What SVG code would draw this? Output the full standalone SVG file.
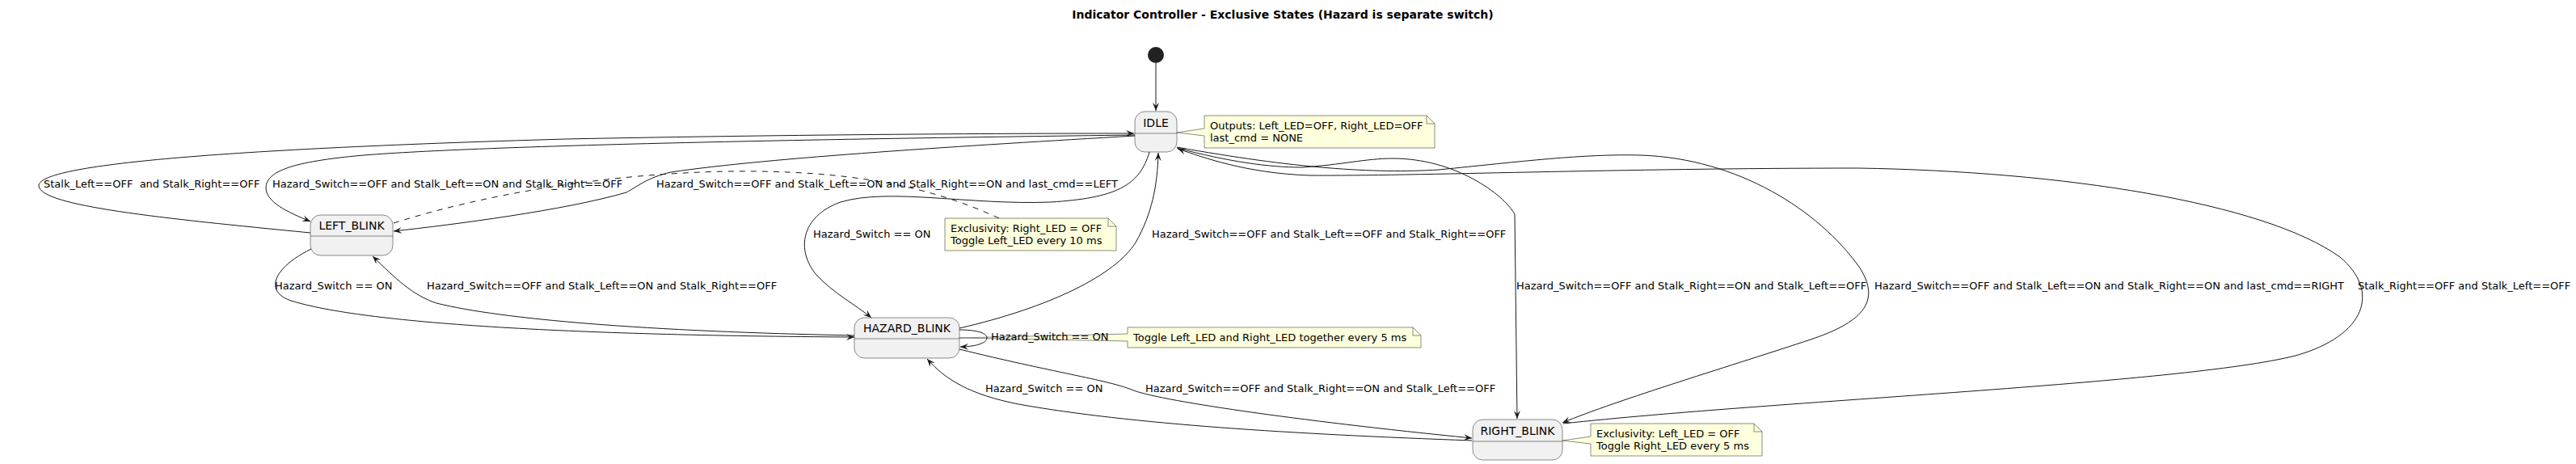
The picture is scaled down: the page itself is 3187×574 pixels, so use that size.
<svg xmlns="http://www.w3.org/2000/svg" width="3187" height="574" viewBox="0 0 3187 574">
<defs>
<marker id="arr" markerWidth="10" markerHeight="10" refX="10" refY="5" orient="auto" markerUnits="userSpaceOnUse"><path d="M0,1 L10,5 L0,9 L4,5 Z" fill="#181818"/></marker>
<style>
text{font-family:"DejaVu Sans","Liberation Sans",sans-serif;fill:#000;white-space:pre}
.title{font-size:14px;font-weight:bold}
.lbl{font-size:13px}
.st{font-size:14px}
.nt{font-size:13px}
.state rect{fill:#F1F1F1;stroke:#181818;stroke-width:0.5}
.state line{stroke:#181818;stroke-width:0.5}
.note path{fill:#FEFFDD;stroke:#181818;stroke-width:0.5}
.note path.fold{fill:none}
#edges path{fill:none;stroke:#181818;stroke-width:1}
#edges path.a{marker-end:url(#arr)}
#edges path.dash{stroke-dasharray:7,7}
</style>
</defs>
<rect width="3187" height="574" fill="#FFFFFF"/>
<text class="title" x="1587" y="23" text-anchor="middle">Indicator Controller - Exclusive States (Hazard is separate switch)</text>

<g id="start"><circle cx="1430" cy="68" r="10" fill="#222222"/></g>

<g id="IDLE" class="state">
<rect x="1404" y="138" width="52" height="50" rx="12.5" ry="12.5"/>
<line x1="1404" y1="165" x2="1456" y2="165"/>
<text class="st" x="1430" y="157" text-anchor="middle">IDLE</text>
</g>
<g id="LEFT_BLINK" class="state">
<rect x="384" y="266" width="102" height="50" rx="12.5" ry="12.5"/>
<line x1="384" y1="292" x2="486" y2="292"/>
<text class="st" x="435" y="284" text-anchor="middle">LEFT_BLINK</text>
</g>
<g id="HAZARD_BLINK" class="state">
<rect x="1057" y="393" width="130" height="50" rx="12.5" ry="12.5"/>
<line x1="1057" y1="419" x2="1187" y2="419"/>
<text class="st" x="1122" y="411" text-anchor="middle">HAZARD_BLINK</text>
</g>
<g id="RIGHT_BLINK" class="state">
<rect x="1822" y="519" width="111" height="50" rx="12.5" ry="12.5"/>
<line x1="1822" y1="546" x2="1933" y2="546"/>
<text class="st" x="1877.5" y="538" text-anchor="middle">RIGHT_BLINK</text>
</g>

<g id="note_idle" class="note">
<path d="M1490,143 L1765,143 L1775,153 L1775,183 L1490,183 L1490,168 L1456,164 L1490,159 Z"/>
<path class="fold" d="M1765,143 L1765,153 L1775,153"/>
<text class="nt" x="1497" y="160">Outputs: Left_LED=OFF, Right_LED=OFF</text>
<text class="nt" x="1497" y="175">last_cmd = NONE</text>
</g>
<g id="note_left" class="note">
<path d="M1169,270 L1371,270 L1381,280 L1381,310 L1169,310 Z"/>
<path class="fold" d="M1371,270 L1371,280 L1381,280"/>
<text class="nt" x="1176" y="287">Exclusivity: Right_LED = OFF</text>
<text class="nt" x="1176" y="302">Toggle Left_LED every 10 ms</text>
</g>
<g id="note_hazard" class="note">
<path d="M1395,405 L1748,405 L1758,415 L1758,430 L1395,430 L1395,422 L1187,418 L1395,413 Z"/>
<path class="fold" d="M1748,405 L1748,415 L1758,415"/>
<text class="nt" x="1402" y="422">Toggle Left_LED and Right_LED together every 5 ms</text>
</g>
<g id="note_right" class="note">
<path d="M1968,524 L2170,524 L2180,534 L2180,564 L1968,564 L1968,549 L1933,545 L1968,540 Z"/>
<path class="fold" d="M2170,524 L2170,534 L2180,534"/>
<text class="nt" x="1975" y="541">Exclusivity: Left_LED = OFF</text>
<text class="nt" x="1975" y="556">Toggle Right_LED every 5 ms</text>
</g>

<g id="edges">
<path class="a" d="M1430,78 L1430,137"/>
<path class="a" d="M384,288 C200,270 50,255 48,230 C46,205 250,185 700,172 C1000,166 1250,165 1403,165"/>
<path class="a" d="M1404,167 C1000,172 600,180 450,192 C360,200 330,212 329,232 C329,250 355,262 384,274"/>
<path class="a" d="M1404,168 C1200,180 950,195 830,213 C800,220 790,230 775,238 C700,260 560,278 487,286"/>
<path class="a" d="M1422,188 C1410,230 1380,245 1300,250 C1200,254 1100,232 1040,250 C990,268 985,310 1010,340 C1030,362 1060,378 1078,393"/>
<path class="a" d="M1187,406 C1300,380 1380,340 1405,300 C1425,265 1432,230 1433,189"/>
<path class="a" d="M385,308 C340,330 325,360 360,372 C450,400 700,415 1057,417"/>
<path class="a" d="M1057,415 C800,410 620,395 540,375 C510,365 490,345 461,317"/>
<path class="a" d="M1187,408 C1205,408 1221,411 1221,418 C1221,425 1205,429 1188,429"/>
<path class="a" d="M1187,432 C1300,460 1370,470 1400,482 C1430,495 1600,520 1821,542"/>
<path class="a" d="M1821,545 C1600,537 1400,525 1260,500 C1200,488 1170,470 1147,444"/>
<path class="a" d="M1456,183 C1520,200 1570,207 1610,207 C1660,204 1690,196 1723,196 C1800,196 1860,240 1874,265 L1877,518"/>
<path class="a" d="M1456,182 C1600,208 1700,215 1780,210 C1880,200 1960,190 2030,192 C2150,196 2250,260 2300,330 C2330,375 2300,400 2240,420 C2150,450 2000,495 1933,523"/>
<path class="a" d="M1934,524 C2200,495 2700,475 2840,440 C2928,415 2945,360 2895,318 C2800,250 2550,212 2300,208 C2000,208 1750,218 1620,217 C1540,214 1490,195 1457,184"/>
<path class="dash" d="M487,276 C600,240 750,215 900,212 C1050,210 1150,230 1236,270"/>
<text class="lbl" x="54" y="232">Stalk_Left==OFF  and Stalk_Right==OFF</text>
<text class="lbl" x="337" y="232">Hazard_Switch==OFF and Stalk_Left==ON and Stalk_Right==OFF</text>
<text class="lbl" x="812" y="232">Hazard_Switch==OFF and Stalk_Left==ON and Stalk_Right==ON and last_cmd==LEFT</text>
<text class="lbl" x="1006" y="294">Hazard_Switch == ON</text>
<text class="lbl" x="1425" y="294">Hazard_Switch==OFF and Stalk_Left==OFF and Stalk_Right==OFF</text>
<text class="lbl" x="340" y="358">Hazard_Switch == ON</text>
<text class="lbl" x="528" y="358">Hazard_Switch==OFF and Stalk_Left==ON and Stalk_Right==OFF</text>
<text class="lbl" x="1226" y="421">Hazard_Switch == ON</text>
<text class="lbl" x="1219" y="485">Hazard_Switch == ON</text>
<text class="lbl" x="1417" y="485">Hazard_Switch==OFF and Stalk_Right==ON and Stalk_Left==OFF</text>
<text class="lbl" x="1876" y="358">Hazard_Switch==OFF and Stalk_Right==ON and Stalk_Left==OFF</text>
<text class="lbl" x="2319" y="358">Hazard_Switch==OFF and Stalk_Left==ON and Stalk_Right==ON and last_cmd==RIGHT</text>
<text class="lbl" x="2917" y="358">Stalk_Right==OFF and Stalk_Left==OFF</text>
</g>
</svg>
